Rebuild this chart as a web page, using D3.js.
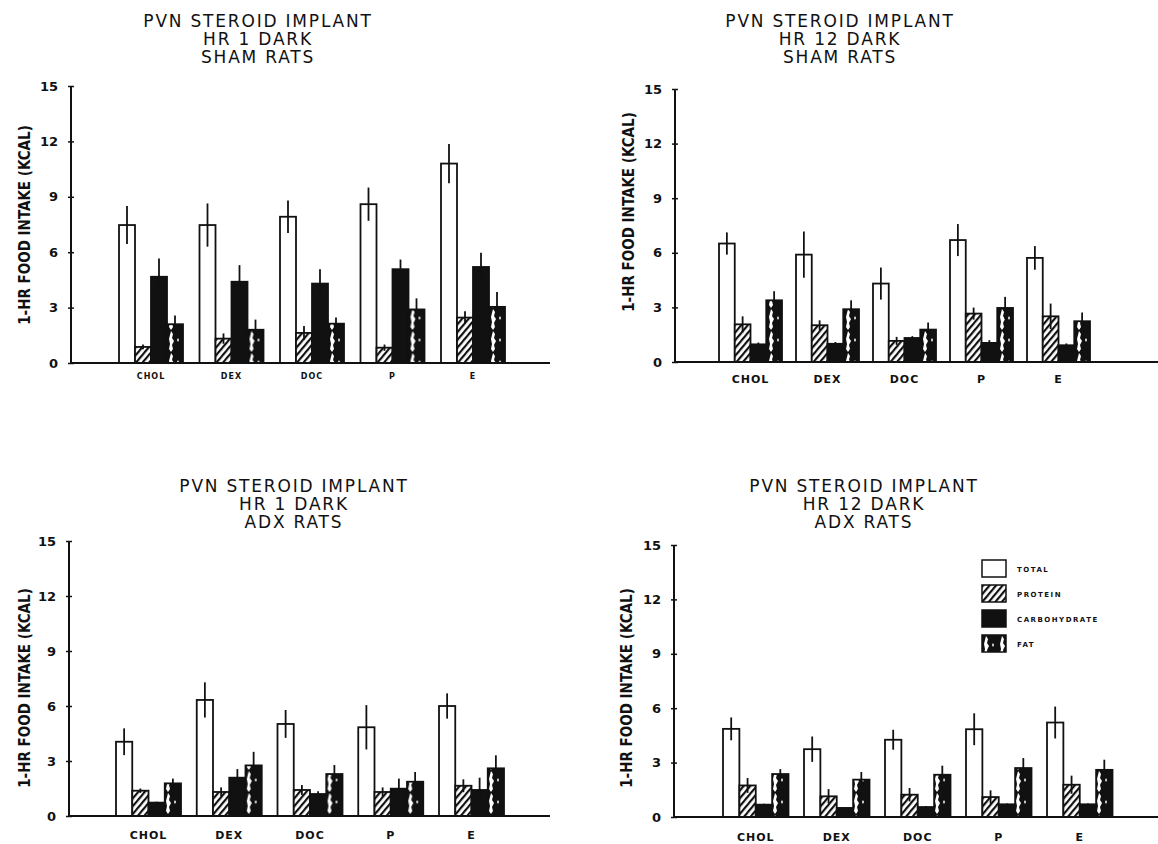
<!DOCTYPE html>
<html>
<head>
<meta charset="utf-8">
<script src="https://cdn.jsdelivr.net/npm/d3@7"></script>
<style>
  body { margin: 0; background: #fff; }
  text { fill: #111; }
</style>
</head>
<body>
<script>
// categories and series
const categories = ['CHOL', 'DEX', 'DOC', 'P', 'E'];
const seriesNames = ['TOTAL', 'PROTEIN', 'CARBOHYDRATE', 'FAT'];
const yTicks = [0, 3, 6, 9, 12, 15];

// means per series (total, protein, carbohydrate, fat) and their error bars
const shamHr1Means = [
  [7.47, 7.47, 7.92, 8.6, 10.8],
  [0.87, 1.32, 1.63, 0.83, 2.46],
  [4.67, 4.4, 4.3, 5.08, 5.2],
  [2.1, 1.8, 2.13, 2.9, 3.04]
];
const shamHr1Err = [
  [1.03, 1.17, 0.88, 0.9, 1.06],
  [0.13, 0.28, 0.37, 0.17, 0.34],
  [0.99, 0.9, 0.78, 0.52, 0.77],
  [0.47, 0.55, 0.33, 0.6, 0.81]
];
const shamHr12Means = [
  [6.51, 5.9, 4.31, 6.7, 5.72],
  [2.07, 2.02, 1.16, 2.66, 2.51],
  [0.97, 1.0, 1.32, 1.05, 0.92],
  [3.39, 2.9, 1.78, 2.97, 2.24]
];
const shamHr12Err = [
  [0.61, 1.27, 0.88, 0.88, 0.65],
  [0.44, 0.27, 0.22, 0.33, 0.7],
  [0.1, 0.1, 0.1, 0.15, 0.1],
  [0.5, 0.49, 0.39, 0.61, 0.48]
];
const adxHr1Means = [
  [4.05, 6.33, 5.02, 4.84, 6.0],
  [1.38, 1.31, 1.42, 1.31, 1.65],
  [0.73, 2.09, 1.2, 1.49, 1.42],
  [1.78, 2.76, 2.29, 1.87, 2.6]
];
const adxHr1Err = [
  [0.73, 0.96, 0.76, 1.21, 0.69],
  [0.12, 0.25, 0.27, 0.25, 0.35],
  [0.05, 0.47, 0.15, 0.55, 0.67],
  [0.26, 0.74, 0.49, 0.53, 0.71]
];
const adxHr12Means = [
  [4.86, 3.74, 4.26, 4.84, 5.21],
  [1.74, 1.14, 1.23, 1.1, 1.78],
  [0.68, 0.5, 0.55, 0.7, 0.7],
  [2.37, 2.06, 2.33, 2.7, 2.6]
];
const adxHr12Err = [
  [0.63, 0.7, 0.55, 0.88, 0.88],
  [0.41, 0.4, 0.37, 0.37, 0.5],
  [0.05, 0.05, 0.05, 0.05, 0.05],
  [0.27, 0.42, 0.5, 0.55, 0.56]
];

const panels = [
  { title: ['PVN STEROID IMPLANT', 'HR 1 DARK', 'SHAM RATS'], means: shamHr1Means, err: shamHr1Err,
    titleX: 258, titleY: 27, axisX: 71, base: 363, top: 86, xEnd: 550, first: 119, step: 80.5, groupW: 64,
    labelDy: 16, labelSize: 8, yLabelX: 25, yLabelY: 225 },
  { title: ['PVN STEROID IMPLANT', 'HR 12 DARK', 'SHAM RATS'], means: shamHr12Means, err: shamHr12Err,
    titleX: 840, titleY: 27, axisX: 675, base: 362, top: 89, xEnd: 1158, first: 719, step: 77, groupW: 63,
    labelDy: 21, labelSize: 11, yLabelX: 629, yLabelY: 212 },
  { title: ['PVN STEROID IMPLANT', 'HR 1 DARK', 'ADX RATS'], means: adxHr1Means, err: adxHr1Err,
    titleX: 294, titleY: 492, axisX: 69, base: 816, top: 541, xEnd: 550, first: 116, step: 80.75, groupW: 65,
    labelDy: 23, labelSize: 11, yLabelX: 25, yLabelY: 688 },
  { title: ['PVN STEROID IMPLANT', 'HR 12 DARK', 'ADX RATS'], means: adxHr12Means, err: adxHr12Err,
    titleX: 864, titleY: 492, axisX: 674, base: 817, top: 545, xEnd: 1158, first: 723, step: 81, groupW: 65.5,
    labelDy: 24, labelSize: 11, yLabelX: 627, yLabelY: 688 }
];

const svg = d3.select('body').append('svg').attr('width', 1158).attr('height', 844);

// fill patterns for the bar types
const defs = svg.append('defs');
const hatch = defs.append('pattern').attr('id', 'hatch').attr('patternUnits', 'userSpaceOnUse')
  .attr('width', 5).attr('height', 5).attr('patternTransform', 'rotate(40)');
hatch.append('rect').attr('width', 5).attr('height', 5).attr('fill', '#fff');
hatch.append('line').attr('x1', 1).attr('x2', 1).attr('y1', 0).attr('y2', 5)
  .attr('stroke', '#111').attr('stroke-width', 2.4);

const fat = defs.append('pattern').attr('id', 'fat').attr('patternUnits', 'userSpaceOnUse')
  .attr('width', 16).attr('height', 22);
fat.append('rect').attr('width', 16).attr('height', 22).attr('fill', '#111');
fat.append('path').attr('fill', '#fff')
  .attr('d', 'M4 1 L6 4 L5 8 L7 11 L5 15 L6 19 L4 22 L2 19 L3 14 L2 9 L3 5Z M11 8 L12 10 L11 12 L10 10Z');

const fills = ['#fff', 'url(#hatch)', '#111', 'url(#fat)'];

panels.forEach(drawPanel);

function drawPanel(p) {
  const g = svg.append('g');
  const y = d3.scaleLinear().domain([0, 15]).range([p.base, p.top]);
  const x0 = d3.scaleBand().domain(categories)
    .range([p.first, p.first + 4 * p.step + p.groupW])
    .paddingInner((p.step - p.groupW) / p.step).paddingOuter(0);
  const x1 = d3.scaleBand().domain(d3.range(seriesNames.length)).range([0, x0.bandwidth()]);

  // title, three lines
  g.append('text').attr('x', p.titleX).attr('y', p.titleY)
    .attr('text-anchor', 'middle')
    .style('font', '17px "DejaVu Sans", sans-serif').style('letter-spacing', '1.8px')
    .selectAll('tspan').data(p.title).join('tspan')
    .attr('x', p.titleX).attr('dy', (d, i) => i ? 18 : 0).text(d => d);

  // y axis title
  g.append('text').attr('transform', `translate(${p.yLabelX},${p.yLabelY}) rotate(-90)`)
    .attr('text-anchor', 'middle').attr('dy', '0.35em')
    .style('font', 'bold 15px "DejaVu Sans Condensed", "Liberation Sans Narrow", sans-serif')
    .text('1-HR FOOD INTAKE (KCAL)');

  // bars
  const rows = categories.map((c, ci) => seriesNames.map((s, si) => ({
    cat: c, si, v: p.means[si][ci], e: p.err[si][ci]
  })));
  const grp = g.selectAll('g.grp').data(rows).join('g')
    .attr('transform', (d, i) => `translate(${x0(categories[i])},0)`);
  grp.selectAll('rect').data(d => d).join('rect')
    .attr('x', d => x1(d.si)).attr('y', d => y(d.v))
    .attr('width', x1.bandwidth()).attr('height', d => y(0) - y(d.v))
    .attr('fill', d => fills[d.si]).attr('stroke', '#111').attr('stroke-width', 1.8);
  grp.selectAll('line.err').data(d => d).join('line').attr('class', 'err')
    .attr('x1', d => x1(d.si) + x1.bandwidth() / 2).attr('x2', d => x1(d.si) + x1.bandwidth() / 2)
    .attr('y1', d => y(d.v + d.e)).attr('y2', d => y(Math.max(0, d.v - d.e)))
    .attr('stroke', '#111').attr('stroke-width', 1.8);

  // y axis
  const ax = g.append('g').attr('transform', `translate(${p.axisX},0)`)
    .call(d3.axisLeft(y).tickValues(yTicks).tickSize(3).tickPadding(10));
  ax.select('.domain').remove();
  ax.selectAll('.tick line').attr('x2', 3).attr('x1', -3).attr('stroke', '#111').attr('stroke-width', 1.5);
  ax.selectAll('.tick text')
    .style('font', 'bold 13px "DejaVu Sans", sans-serif').attr('fill', '#111');
  g.append('line').attr('x1', p.axisX).attr('x2', p.axisX).attr('y1', y(0)).attr('y2', y(15))
    .attr('stroke', '#111').attr('stroke-width', 2);

  // x axis line and category labels
  g.append('line').attr('x1', p.axisX).attr('x2', p.xEnd).attr('y1', y(0)).attr('y2', y(0))
    .attr('stroke', '#111').attr('stroke-width', 2);
  g.selectAll('text.cat').data(categories).join('text').attr('class', 'cat')
    .attr('x', d => x0(d) + x0.bandwidth() / 2).attr('y', y(0) + p.labelDy)
    .attr('text-anchor', 'middle')
    .style('font', `bold ${p.labelSize}px "DejaVu Sans", sans-serif`).style('letter-spacing', '1px')
    .text(d => d);
}

// legend in the last panel
const legend = svg.append('g').attr('transform', 'translate(982,560)');
const li = legend.selectAll('g').data(seriesNames).join('g')
  .attr('transform', (d, i) => `translate(0,${i * 25})`);
li.append('rect').attr('width', 24).attr('height', 17)
  .attr('fill', (d, i) => fills[i]).attr('stroke', '#111').attr('stroke-width', 1.5);
li.append('text').attr('x', 35).attr('y', 12)
  .style('font', 'bold 7px "DejaVu Sans", sans-serif').style('letter-spacing', '1.5px')
  .text(d => d);
</script>
</body>
</html>
